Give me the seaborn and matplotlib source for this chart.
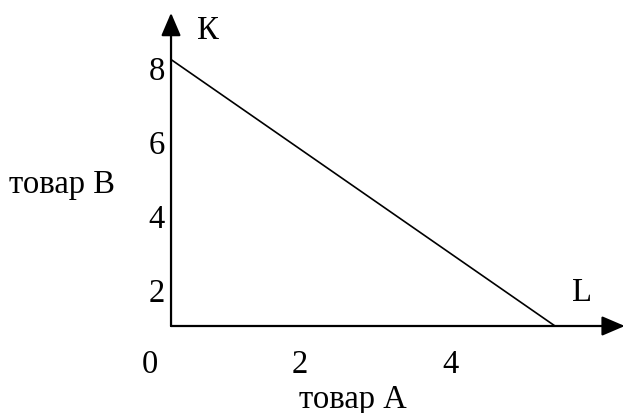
import matplotlib
matplotlib.use("Agg")
import matplotlib.pyplot as plt
import seaborn as sns
import pandas as pd

# budget line between the two goods
goodA = [0.28, 5.4]
goodB = [8.2, 1.0]
xticks = [0, 2, 4]
yticks = [2, 4, 6, 8]

sns.set_style("white")
plt.rcParams['font.family'] = ['Liberation Serif', 'DejaVu Serif']
plt.rcParams['text.color'] = 'black'
plt.rcParams['xtick.color'] = 'black'
plt.rcParams['ytick.color'] = 'black'
plt.rcParams['axes.labelcolor'] = 'black'

FS = 23.5

fig = plt.figure(figsize=(6.25, 4.14), dpi=100)
W, H = 625, 414
# axes box in pixels: left 148, right 625, top 5, bottom 327
ax = fig.add_axes([148 / W, (H - 327) / H, (625 - 148) / W, (327 - 5) / H])
ax.set_xlim(-0.027, 6.333)
ax.set_ylim(1.0, 9.70)

df = pd.DataFrame({"A": goodA, "B": goodB})
sns.lineplot(data=df, x="A", y="B", color="black", linewidth=1.2, ax=ax)

for s in ax.spines.values():
    s.set_visible(False)

arrow = dict(arrowstyle="-|>,head_length=0.7,head_width=0.3", color="black",
             lw=1.6, mutation_scale=20, shrinkA=0, shrinkB=0)
ax.annotate("", xy=(0.28, 9.46), xytext=(0.28, 1.0), arrowprops=arrow,
            annotation_clip=False)
ax.annotate("", xy=(6.33, 1.0), xytext=(0.28, 1.0), arrowprops=arrow,
            annotation_clip=False)

ax.set_xticks(xticks)
ax.set_yticks(yticks)
ax.tick_params(axis="x", length=0, pad=16.5, labelsize=FS)
ax.tick_params(axis="y", length=0, pad=-12, labelsize=FS)
ax.grid(False)

ax.text(0.77, 9.0, "К", fontsize=FS, ha="center", va="center")
ax.text(5.76, 1.92, "L", fontsize=FS, ha="center", va="center")

ax.set_xlabel("товар А", fontsize=FS, va="center")
ax.xaxis.set_label_coords(0.429, -0.227)
ax.set_ylabel("товар В", fontsize=FS, rotation=0, ha="center", va="center")
ax.yaxis.set_label_coords(-0.180, 0.441)

fig.savefig("out.png", dpi=100)
